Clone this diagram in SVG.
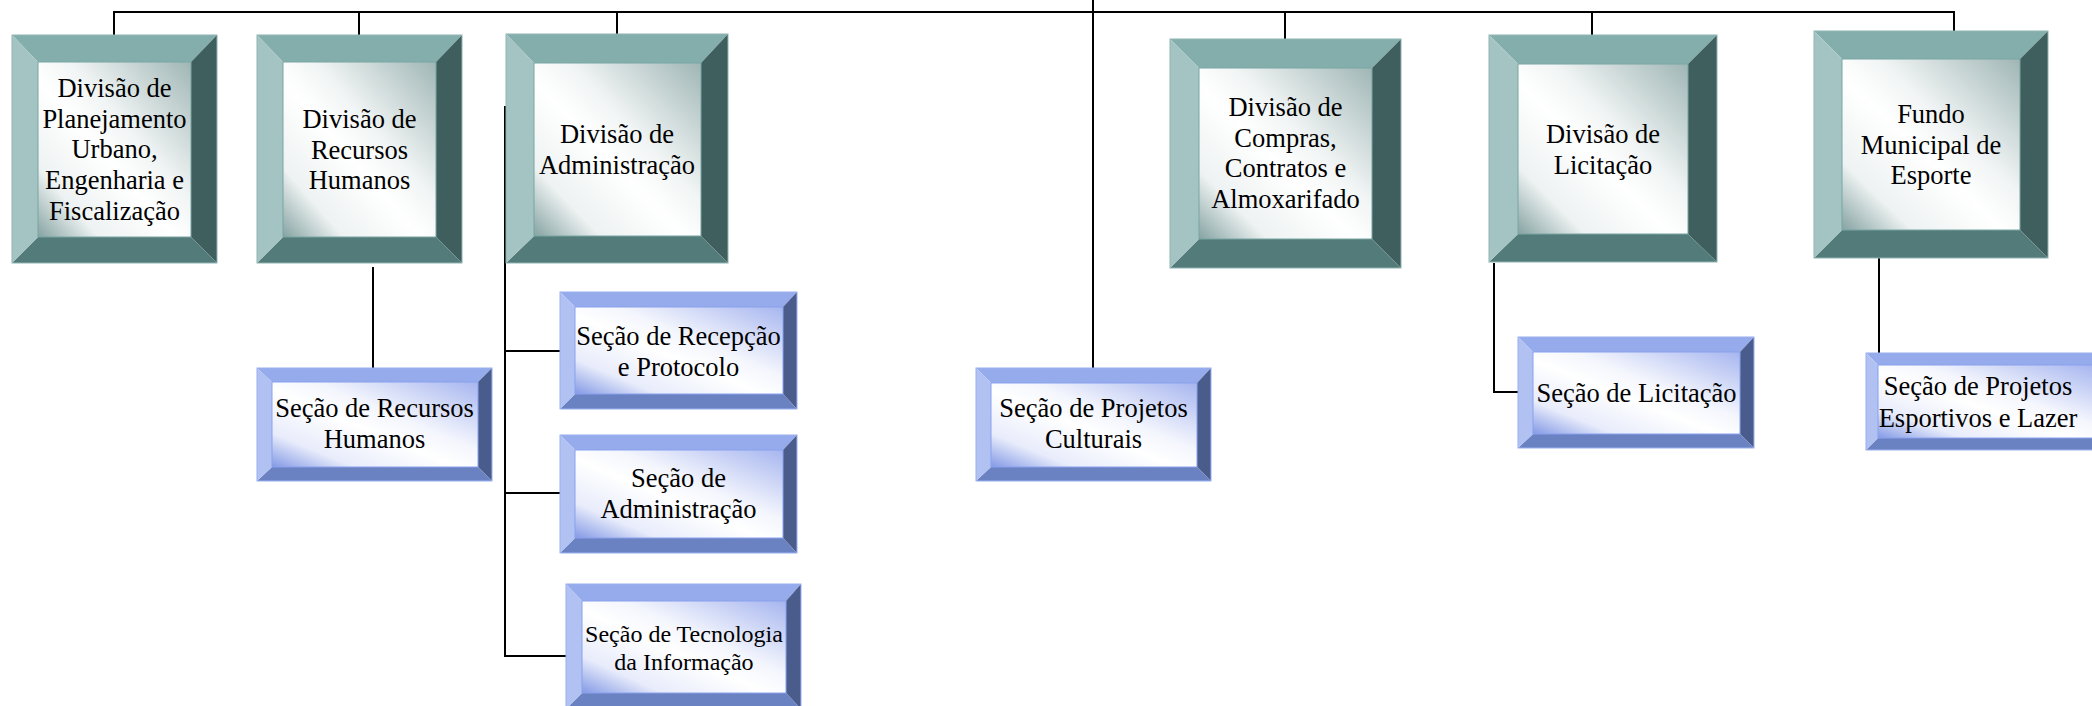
<svg xmlns="http://www.w3.org/2000/svg" width="2092" height="706" viewBox="0 0 2092 706">
<style>
.ln{stroke:#000;stroke-width:2;fill:none}
.tt{fill:#84aeac}.tl{fill:#a4c4c3}.tr{fill:#3f5f5e}.tb{fill:#527b79}
.to{fill:none;stroke:#8fb5b3;stroke-width:1}
.ti{fill:url(#gt);stroke:#79a5a3;stroke-width:1}
.bt{fill:#95abeb}.bl{fill:#b0c1f2}.br{fill:#4a5c8c}.bb{fill:#6a81c2}
.bo{fill:none;stroke:#9ab0f2;stroke-width:1}
.bi{fill:url(#gb);stroke:#8aa2ee;stroke-width:1}
text{font-family:"Liberation Serif","Times New Roman",serif;font-size:26.5px;fill:#000;text-anchor:middle}
.sm{font-size:24px}
</style>
<defs>
<linearGradient id="gt" x1="1" y1="0" x2="0" y2="1">
<stop offset="0" stop-color="#9fb6b5"/>
<stop offset="0.4" stop-color="#f2f5f5"/>
<stop offset="0.55" stop-color="#ffffff"/>
<stop offset="0.8" stop-color="#eef2f2"/>
<stop offset="1" stop-color="#85a3a2"/>
</linearGradient>
<linearGradient id="gb" x1="1" y1="0" x2="0" y2="1">
<stop offset="0" stop-color="#a6b5ef"/>
<stop offset="0.4" stop-color="#f4f6fd"/>
<stop offset="0.55" stop-color="#ffffff"/>
<stop offset="0.8" stop-color="#e8ecfb"/>
<stop offset="1" stop-color="#8399e5"/>
</linearGradient>
</defs>
<g id="connectors">
<line class="ln" x1="114" y1="12" x2="1955" y2="12"/>
<line class="ln" x1="114" y1="11" x2="114" y2="35"/>
<line class="ln" x1="359" y1="11" x2="359" y2="35"/>
<line class="ln" x1="617" y1="11" x2="617" y2="34"/>
<line class="ln" x1="1285" y1="11" x2="1285" y2="39"/>
<line class="ln" x1="1592" y1="11" x2="1592" y2="35"/>
<line class="ln" x1="1954" y1="11" x2="1954" y2="31"/>
<line class="ln" x1="1093" y1="0" x2="1093" y2="368"/>
<line class="ln" x1="373" y1="267" x2="373" y2="368"/>
<polyline class="ln" points="505,106 505,656 566,656"/>
<line class="ln" x1="505" y1="351" x2="560" y2="351"/>
<line class="ln" x1="505" y1="493" x2="560" y2="493"/>
<polyline class="ln" points="1494,263 1494,392 1518,392"/>
<line class="ln" x1="1879" y1="258" x2="1879" y2="353"/>
</g>
<g id="div-planejamento">
<polygon class="tt" points="12,35 217,35 191,62 38,62"/>
<polygon class="tr" points="217,35 217,263 191,237 191,62"/>
<polygon class="tb" points="12,263 217,263 191,237 38,237"/>
<polygon class="tl" points="12,35 38,62 38,237 12,263"/>
<rect class="to" x="12" y="35" width="205" height="228"/>
<rect class="ti" x="38" y="62" width="153" height="175"/>
<text x="114.5" y="97">Divisão de</text>
<text x="114.5" y="127.7">Planejamento</text>
<text x="114.5" y="158.4">Urbano,</text>
<text x="114.5" y="189.1">Engenharia e</text>
<text x="114.5" y="219.8">Fiscalização</text>
</g>
<g id="div-rh">
<polygon class="tt" points="257,35 462,35 436,62 283,62"/>
<polygon class="tr" points="462,35 462,263 436,237 436,62"/>
<polygon class="tb" points="257,263 462,263 436,237 283,237"/>
<polygon class="tl" points="257,35 283,62 283,237 257,263"/>
<rect class="to" x="257" y="35" width="205" height="228"/>
<rect class="ti" x="283" y="62" width="153" height="175"/>
<text x="359.5" y="128">Divisão de</text>
<text x="359.5" y="158.5">Recursos</text>
<text x="359.5" y="189">Humanos</text>
</g>
<g id="div-admin">
<polygon class="tt" points="506,34 728,34 701,63 534,63"/>
<polygon class="tr" points="728,34 728,263 701,236 701,63"/>
<polygon class="tb" points="506,263 728,263 701,236 534,236"/>
<polygon class="tl" points="506,34 534,63 534,236 506,263"/>
<rect class="to" x="506" y="34" width="222" height="229"/>
<rect class="ti" x="534" y="63" width="167" height="173"/>
<text x="617" y="143">Divisão de</text>
<text x="617" y="174">Administração</text>
</g>
<g id="div-compras">
<polygon class="tt" points="1170,39 1401,39 1372,68 1199,68"/>
<polygon class="tr" points="1401,39 1401,268 1372,239 1372,68"/>
<polygon class="tb" points="1170,268 1401,268 1372,239 1199,239"/>
<polygon class="tl" points="1170,39 1199,68 1199,239 1170,268"/>
<rect class="to" x="1170" y="39" width="231" height="229"/>
<rect class="ti" x="1199" y="68" width="173" height="171"/>
<text x="1285.5" y="116">Divisão de</text>
<text x="1285.5" y="146.5">Compras,</text>
<text x="1285.5" y="177">Contratos e</text>
<text x="1285.5" y="207.5">Almoxarifado</text>
</g>
<g id="div-licitacao">
<polygon class="tt" points="1489,35 1717,35 1688,64 1518,64"/>
<polygon class="tr" points="1717,35 1717,262 1688,234 1688,64"/>
<polygon class="tb" points="1489,262 1717,262 1688,234 1518,234"/>
<polygon class="tl" points="1489,35 1518,64 1518,234 1489,262"/>
<rect class="to" x="1489" y="35" width="228" height="227"/>
<rect class="ti" x="1518" y="64" width="170" height="170"/>
<text x="1603" y="143">Divisão de</text>
<text x="1603" y="174">Licitação</text>
</g>
<g id="fundo-esporte">
<polygon class="tt" points="1814,31 2048,31 2020,59 1842,59"/>
<polygon class="tr" points="2048,31 2048,258 2020,230 2020,59"/>
<polygon class="tb" points="1814,258 2048,258 2020,230 1842,230"/>
<polygon class="tl" points="1814,31 1842,59 1842,230 1814,258"/>
<rect class="to" x="1814" y="31" width="234" height="227"/>
<rect class="ti" x="1842" y="59" width="178" height="171"/>
<text x="1931" y="123">Fundo</text>
<text x="1931" y="153.5">Municipal de</text>
<text x="1931" y="184">Esporte</text>
</g>
<g id="sec-rh">
<polygon class="bt" points="257,368 492,368 478,382 272,382"/>
<polygon class="br" points="492,368 492,481 478,467 478,382"/>
<polygon class="bb" points="257,481 492,481 478,467 272,467"/>
<polygon class="bl" points="257,368 272,382 272,467 257,481"/>
<rect class="bo" x="257" y="368" width="235" height="113"/>
<rect class="bi" x="272" y="382" width="206" height="85"/>
<text x="374.5" y="417">Seção de Recursos</text>
<text x="374.5" y="448">Humanos</text>
</g>
<g id="sec-recepcao">
<polygon class="bt" points="560,292 797,292 783,307 575,307"/>
<polygon class="br" points="797,292 797,409 783,394 783,307"/>
<polygon class="bb" points="560,409 797,409 783,394 575,394"/>
<polygon class="bl" points="560,292 575,307 575,394 560,409"/>
<rect class="bo" x="560" y="292" width="237" height="117"/>
<rect class="bi" x="575" y="307" width="208" height="87"/>
<text x="678.5" y="345">Seção de Recepção</text>
<text x="678.5" y="376">e Protocolo</text>
</g>
<g id="sec-admin">
<polygon class="bt" points="560,435 797,435 783,450 575,450"/>
<polygon class="br" points="797,435 797,553 783,538 783,450"/>
<polygon class="bb" points="560,553 797,553 783,538 575,538"/>
<polygon class="bl" points="560,435 575,450 575,538 560,553"/>
<rect class="bo" x="560" y="435" width="237" height="118"/>
<rect class="bi" x="575" y="450" width="208" height="88"/>
<text x="678.5" y="487">Seção de</text>
<text x="678.5" y="518">Administração</text>
</g>
<g id="sec-ti">
<polygon class="bt" points="566,584 801,584 786,601 582,601"/>
<polygon class="br" points="801,584 801,709 786,693 786,601"/>
<polygon class="bb" points="566,709 801,709 786,693 582,693"/>
<polygon class="bl" points="566,584 582,601 582,693 566,709"/>
<rect class="bo" x="566" y="584" width="235" height="125"/>
<rect class="bi" x="582" y="601" width="204" height="92"/>
<text class="sm" x="684" y="642">Seção de Tecnologia</text>
<text class="sm" x="684" y="669.5">da Informação</text>
</g>
<g id="sec-culturais">
<polygon class="bt" points="976,368 1211,368 1197,383 991,383"/>
<polygon class="br" points="1211,368 1211,481 1197,467 1197,383"/>
<polygon class="bb" points="976,481 1211,481 1197,467 991,467"/>
<polygon class="bl" points="976,368 991,383 991,467 976,481"/>
<rect class="bo" x="976" y="368" width="235" height="113"/>
<rect class="bi" x="991" y="383" width="206" height="84"/>
<text x="1093.5" y="417">Seção de Projetos</text>
<text x="1093.5" y="448">Culturais</text>
</g>
<g id="sec-licitacao">
<polygon class="bt" points="1518,337 1754,337 1740,352 1533,352"/>
<polygon class="br" points="1754,337 1754,448 1740,434 1740,352"/>
<polygon class="bb" points="1518,448 1754,448 1740,434 1533,434"/>
<polygon class="bl" points="1518,337 1533,352 1533,434 1518,448"/>
<rect class="bo" x="1518" y="337" width="236" height="111"/>
<rect class="bi" x="1533" y="352" width="207" height="82"/>
<text x="1636.5" y="402">Seção de Licitação</text>
</g>
<g id="sec-esportivos">
<polygon class="bt" points="1866,353 2106,353 2093,365 1878,365"/>
<polygon class="br" points="2106,353 2106,450 2093,438 2093,365"/>
<polygon class="bb" points="1866,450 2106,450 2093,438 1878,438"/>
<polygon class="bl" points="1866,353 1878,365 1878,438 1866,450"/>
<rect class="bo" x="1866" y="353" width="240" height="97"/>
<rect class="bi" x="1878" y="365" width="215" height="73"/>
<text x="1978" y="395">Seção de Projetos</text>
<text x="1978" y="426.5">Esportivos e Lazer</text>
</g>
</svg>
